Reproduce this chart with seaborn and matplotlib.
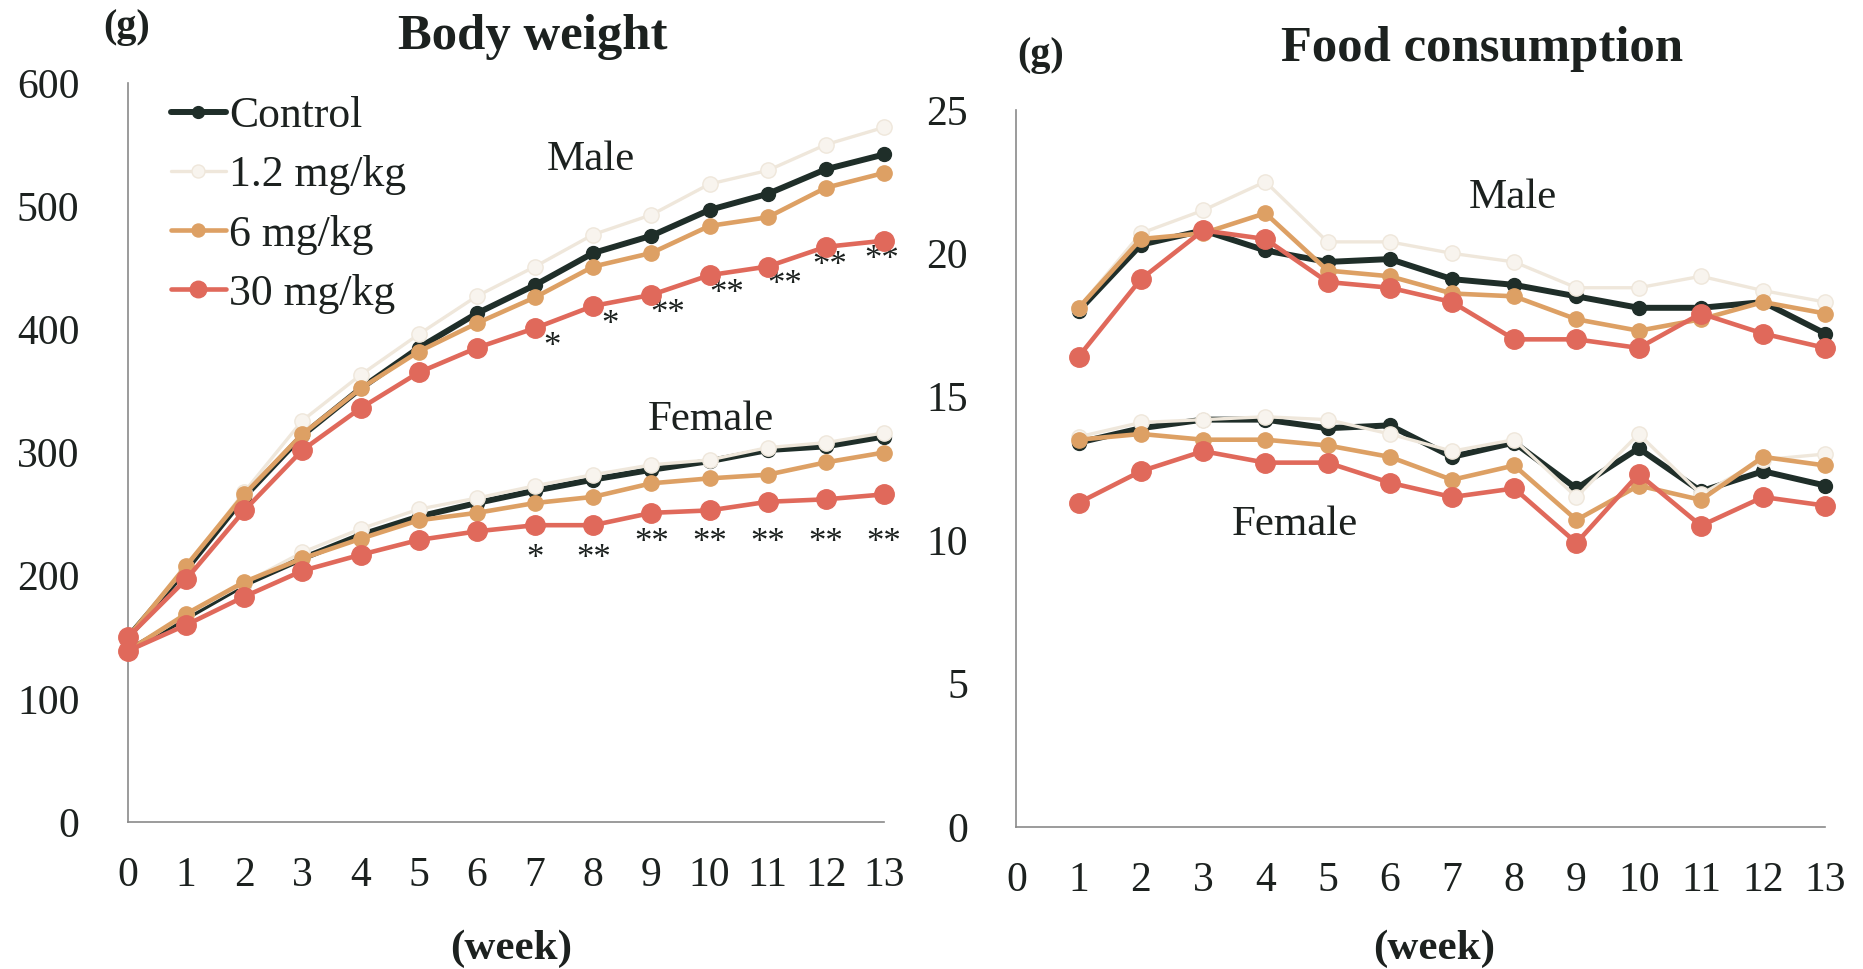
import matplotlib
matplotlib.use("Agg")
import matplotlib.pyplot as plt
import pandas as pd
import seaborn as sns
from matplotlib.lines import Line2D

# ---- data -------------------------------------------------------------
weeks_bw = list(range(0, 14))
weeks_fc = list(range(1, 14))

groups = ["Control", "1.2 mg/kg", "6 mg/kg", "30 mg/kg"]

# body weight (g)
bw_male_control = [150, 205, 264, 314, 352, 385, 413, 436, 462, 476, 497, 510, 530, 542]
bw_male_low = [150, 207, 268, 326, 363, 396, 427, 451, 477, 493, 518, 529, 550, 564]
bw_male_mid = [150, 208, 266, 315, 352, 382, 405, 426, 451, 462, 484, 491, 515, 527]
bw_male_high = [150, 197, 253, 302, 336, 365, 385, 401, 419, 428, 444, 451, 467, 472]

bw_female_control = [139, 166, 193, 214, 233, 248, 259, 269, 278, 286, 293, 302, 305, 313]
bw_female_low = [139, 168, 194, 219, 238, 254, 263, 273, 282, 290, 294, 304, 308, 316]
bw_female_mid = [139, 169, 195, 214, 230, 245, 251, 259, 264, 275, 279, 282, 292, 300]
bw_female_high = [139, 160, 183, 204, 217, 229, 236, 241, 241, 251, 253, 260, 262, 266]

# food consumption (g)
fc_male_control = [18.0, 20.3, 20.8, 20.1, 19.7, 19.8, 19.1, 18.9, 18.5, 18.1, 18.1, 18.3, 17.2]
fc_male_low = [18.1, 20.7, 21.5, 22.5, 20.4, 20.4, 20.0, 19.7, 18.8, 18.8, 19.2, 18.7, 18.3]
fc_male_mid = [18.1, 20.5, 20.7, 21.4, 19.4, 19.2, 18.6, 18.5, 17.7, 17.3, 17.7, 18.3, 17.9]
fc_male_high = [16.4, 19.1, 20.8, 20.5, 19.0, 18.8, 18.3, 17.0, 17.0, 16.7, 17.9, 17.2, 16.7]

fc_female_control = [13.4, 13.9, 14.2, 14.2, 13.9, 14.0, 12.9, 13.4, 11.8, 13.2, 11.7, 12.4, 11.9]
fc_female_low = [13.6, 14.1, 14.2, 14.3, 14.2, 13.7, 13.1, 13.5, 11.5, 13.7, 11.6, 12.8, 13.0]
fc_female_mid = [13.5, 13.7, 13.5, 13.5, 13.3, 12.9, 12.1, 12.6, 10.7, 11.9, 11.4, 12.9, 12.6]
fc_female_high = [11.3, 12.4, 13.1, 12.7, 12.7, 12.0, 11.5, 11.8, 9.9, 12.3, 10.5, 11.5, 11.2]

# significance marks for the 30 mg/kg group (body weight)
male_stars = ["", "", "", "", "", "", "", "*", "*", "**", "**", "**", "**", "**"]
female_stars = ["", "", "", "", "", "", "", "*", "**", "**", "**", "**", "**", "**"]

# ---- styling ----------------------------------------------------------
colors = {"Control": "#1f2e29", "1.2 mg/kg": "#efe7db",
          "6 mg/kg": "#dda064", "30 mg/kg": "#e0695b"}
line_w = {"Control": 4.3, "1.2 mg/kg": 2.4, "6 mg/kg": 3.3, "30 mg/kg": 3.3}
mark_s = {"Control": 10, "1.2 mg/kg": 11, "6 mg/kg": 11, "30 mg/kg": 14}
face = {"Control": "#1f2e29", "1.2 mg/kg": "#f8f4ee",
        "6 mg/kg": "#dda064", "30 mg/kg": "#e0695b"}
TEXT = "#1c211f"
AXIS = "#8a8a8a"

sns.set_theme(style="white")
plt.rcParams["font.family"] = ["Liberation Serif", "DejaVu Serif"]
plt.rcParams["text.color"] = TEXT


def long_frame(weeks, series):
    rows = []
    for sex, by_group in series.items():
        for g, vals in zip(groups, by_group):
            for w, v in zip(weeks, vals):
                rows.append({"week": w, "value": v, "group": g, "sex": sex})
    return pd.DataFrame(rows)


bw = long_frame(weeks_bw, {
    "Male": [bw_male_control, bw_male_low, bw_male_mid, bw_male_high],
    "Female": [bw_female_control, bw_female_low, bw_female_mid, bw_female_high],
})
fc = long_frame(weeks_fc, {
    "Male": [fc_male_control, fc_male_low, fc_male_mid, fc_male_high],
    "Female": [fc_female_control, fc_female_low, fc_female_mid, fc_female_high],
})

fig = plt.figure(figsize=(18.63, 9.69), dpi=100)
fig.patch.set_facecolor("white")
ax1 = fig.add_axes([0.0687, 0.1517, 0.4058, 0.7626])
ax2 = fig.add_axes([0.5456, 0.1468, 0.4342, 0.7397])


def draw(ax, df):
    for z, g in enumerate(groups):
        for sex in ["Male", "Female"]:
            sub = df[(df["group"] == g) & (df["sex"] == sex)]
            sns.lineplot(data=sub, x="week", y="value", ax=ax,
                         color=colors[g], linewidth=line_w[g],
                         marker="o", markersize=mark_s[g],
                         markerfacecolor=face[g], markeredgecolor=colors[g],
                         markeredgewidth=1.0, estimator=None, sort=False,
                         zorder=3 + z, clip_on=False, legend=False)


def style_axis(ax, ymax, ystep):
    ax.set_xlim(0, 13)
    ax.set_ylim(0, ymax)
    ax.set_xticks(range(0, 14))
    ax.set_yticks(range(0, ymax + 1, ystep))
    ax.set_xlabel("")
    ax.set_ylabel("")
    for s in ["top", "right"]:
        ax.spines[s].set_visible(False)
    for s in ["left", "bottom"]:
        ax.spines[s].set_color(AXIS)
        ax.spines[s].set_linewidth(1.2)
    ax.tick_params(axis="x", direction="out", length=9, width=1.0,
                   color=AXIS, pad=16, labelsize=30, labelcolor=TEXT)
    ax.tick_params(axis="y", direction="out", length=9, width=0.9,
                   color=AXIS, pad=26, labelsize=30, labelcolor=TEXT)
    ax.set_facecolor("white")


draw(ax1, bw)
draw(ax2, fc)
style_axis(ax1, 600, 100)
style_axis(ax2, 25, 5)

# significance marks (the last week's mark is tucked under its point)
last = weeks_bw[-1]
for w, s in zip(weeks_bw, male_stars):
    if s:
        dx = -2 if w == last else (3 if w == last - 1 else 12)
        ax1.annotate(s, (w, bw_male_high[w]), xytext=(dx, -14),
                     textcoords="offset points", ha="center", va="center",
                     fontsize=25, color=TEXT)
for w, s in zip(weeks_bw, female_stars):
    if s:
        row = 213 if w < 9 else 226
        ax1.annotate(s, (w, row), xytext=(0, 0), textcoords="offset points",
                     ha="center", va="center", fontsize=25, color=TEXT)

# group labels
ax1.text(7.96, 538, "Male", fontsize=31, ha="center", va="center")
ax1.text(10.03, 327, "Female", fontsize=31, ha="center", va="center")
ax2.text(7.97, 21.95, "Male", fontsize=31, ha="center", va="center")
ax2.text(4.47, 10.55, "Female", fontsize=31, ha="center", va="center")

# titles and units
fig.text(533 / 1863, 1 - 37 / 969, "Body weight", fontsize=36.5,
         fontweight="bold", ha="center", va="center")
fig.text(1482 / 1863, 1 - 49 / 969, "Food consumption", fontsize=36.5,
         fontweight="bold", ha="center", va="center")
fig.text(127 / 1863, 1 - 28 / 969, "(g)", fontsize=29, fontweight="bold",
         ha="center", va="center")
fig.text(1041 / 1863, 1 - 56 / 969, "(g)", fontsize=29, fontweight="bold",
         ha="center", va="center")
fig.text(511 / 1863, 1 - 949 / 969, "(week)", fontsize=31, fontweight="bold",
         ha="center", va="center")
fig.text(1434 / 1863, 1 - 949 / 969, "(week)", fontsize=31, fontweight="bold",
         ha="center", va="center")

# legend
handles = [Line2D([0], [0], color=colors[g], linewidth=line_w[g], marker="o",
                  markersize=mark_s[g] * 0.85, markerfacecolor=face[g],
                  markeredgecolor=colors[g]) for g in groups]
leg = ax1.legend(handles, groups, loc="upper left",
                 bbox_to_anchor=(0.0918, 0.9009), bbox_transform=fig.transFigure,
                 frameon=False, fontsize=31.5, handlelength=1.25,
                 handletextpad=0.08, labelspacing=0.44, borderpad=0,
                 borderaxespad=0)
for t in leg.get_texts():
    t.set_color(TEXT)

fig.savefig("out.png", dpi=100, facecolor="white")
